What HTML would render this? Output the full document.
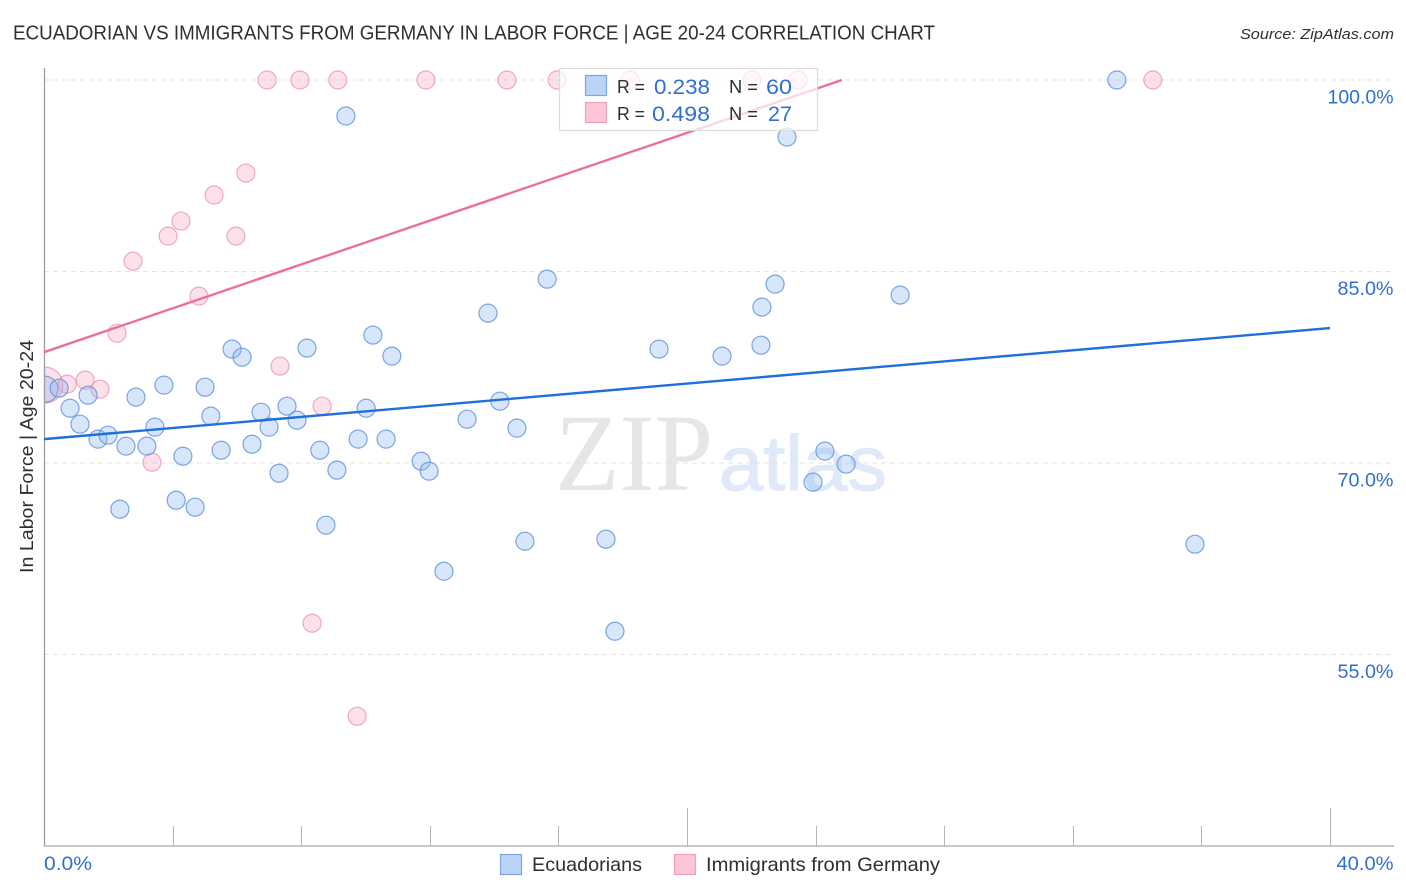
<!DOCTYPE html>
<html lang="en">
<head>
<meta charset="utf-8">
<title>Ecuadorian vs Immigrants from Germany in Labor Force | Age 20-24 Correlation Chart</title>
<style>
html,body{margin:0;padding:0;background:#fff;width:1406px;height:892px;overflow:hidden}
svg{display:block;font-family:"Liberation Sans",sans-serif}
</style>
</head>
<body>
<svg id="chart" width="1406" height="892" viewBox="0 0 1406 892" xmlns="http://www.w3.org/2000/svg">
  <text x="13" y="39.500" font-size="20" fill="#2b2f36" textLength="922" lengthAdjust="spacingAndGlyphs">ECUADORIAN VS IMMIGRANTS FROM GERMANY IN LABOR FORCE | AGE 20-24 CORRELATION CHART</text>
  <text x="1394" y="39" font-size="15" font-style="italic" fill="#2b2f36" text-anchor="end" textLength="154" lengthAdjust="spacingAndGlyphs">Source: ZipAtlas.com</text>

  <g>
    <text x="555" y="490" font-family="'Liberation Serif',serif" font-size="110" fill="#e6e6e6" textLength="158" lengthAdjust="spacingAndGlyphs">ZIP</text>
    <text x="719" y="490" font-size="78" fill="#dfe9f8" stroke="#dfe9f8" stroke-width="1" textLength="168" lengthAdjust="spacingAndGlyphs">atlas</text>
  </g>

  <g id="grid"></g>
  <g id="points"></g>
  <rect x="0" y="340" width="44" height="100" fill="#ffffff"/>
  <g id="axes">
    <line x1="44.500" y1="68" x2="44.500" y2="846" stroke="#9c9c9c" stroke-width="1.300"/>
    <line x1="44" y1="846" x2="1394" y2="846" stroke="#a8a8a8" stroke-width="1.300"/>
  </g>
  <g id="ticks"></g>
  <g id="ylabels"></g>
  <g id="xlabels"></g>
  <text transform="translate(33,456.500) rotate(-90)" font-size="18" fill="#2b2f36" text-anchor="middle" textLength="233" lengthAdjust="spacingAndGlyphs">In Labor Force | Age 20-24</text>

  <g id="trends"></g>

  <g>
    <rect x="559.500" y="68.500" width="258" height="62" fill="#ffffff" fill-opacity="0.72" stroke="#dcdcdc" stroke-width="1.200"/>
    <rect x="585.500" y="75.500" width="21" height="20" fill="#b9d4f7" stroke="#7ba6de" stroke-width="1.200"/>
    <rect x="585.500" y="102.500" width="21" height="20" fill="#fcc6d7" stroke="#eda0bc" stroke-width="1.200"/>
    <text x="617" y="93" font-size="18.500" fill="#2b2f36" textLength="28" lengthAdjust="spacingAndGlyphs">R =</text>
    <text x="654" y="94" font-size="21.500" fill="#2f6fd0" textLength="56" lengthAdjust="spacingAndGlyphs">0.238</text>
    <text x="729" y="93" font-size="18.500" fill="#2b2f36" textLength="29" lengthAdjust="spacingAndGlyphs">N =</text>
    <text x="766" y="94" font-size="21.500" fill="#2f6fd0" textLength="26" lengthAdjust="spacingAndGlyphs">60</text>
    <text x="617" y="120" font-size="18.500" fill="#2b2f36" textLength="28" lengthAdjust="spacingAndGlyphs">R =</text>
    <text x="652" y="121" font-size="21.500" fill="#2f6fd0" textLength="58" lengthAdjust="spacingAndGlyphs">0.498</text>
    <text x="729" y="120" font-size="18.500" fill="#2b2f36" textLength="29" lengthAdjust="spacingAndGlyphs">N =</text>
    <text x="768" y="121" font-size="21.500" fill="#2f6fd0" textLength="24" lengthAdjust="spacingAndGlyphs">27</text>
  </g>

  <g>
    <g>
      <rect x="500.500" y="854.500" width="21" height="20" fill="#b9d4f7" stroke="#7ba6de" stroke-width="1.200"/>
      <text x="532" y="871" font-size="19.500" fill="#2b2f36" textLength="110" lengthAdjust="spacingAndGlyphs">Ecuadorians</text>
    </g>
    <g>
      <rect x="674.500" y="854.500" width="21" height="20" fill="#fcc6d7" stroke="#eda0bc" stroke-width="1.200"/>
      <text x="706" y="871" font-size="19.500" fill="#2b2f36" textLength="234" lengthAdjust="spacingAndGlyphs">Immigrants from Germany</text>
    </g>
  </g>
</svg>

<script>
const yTicks = [100, 85, 70, 55];
const yTickLabels = ["100.0%", "85.0%", "70.0%", "55.0%"];
const xTicks = [0, 4, 8, 12, 16, 20, 24, 28, 32, 36, 40];
const xTickLabels = ["0.0%", "40.0%"];

const ecuadorianX = [0.47,0.81,1.12,1.37,1.68,1.99,2.36,2.55,2.86,3.20,3.45,3.73,4.11,4.32,4.70,5.01,5.19,5.51,5.85,6.16,6.47,6.75,7.00,7.31,7.56,7.87,8.18,8.58,8.77,9.11,9.39,9.77,10.02,10.23,10.64,10.82,11.73,11.98,12.44,13.16,13.81,14.18,14.71,14.96,15.65,17.48,17.76,19.13,21.09,22.30,22.33,22.74,23.11,23.92,24.29,24.95,26.63,33.37,35.80];
const ecuadorianY = [75.86,74.29,73.04,75.31,71.87,72.18,66.38,71.32,75.16,71.32,72.81,76.10,67.08,70.53,66.54,75.94,73.67,71.00,78.92,78.29,71.47,73.98,72.81,69.20,74.45,73.35,79.00,71.00,65.13,69.44,97.18,71.87,74.29,80.02,71.87,78.37,70.14,69.36,61.52,73.43,81.74,74.84,72.73,63.87,84.40,64.03,56.82,78.92,78.37,79.23,82.21,84.01,95.53,68.50,70.93,69.91,83.15,100,63.64];
const germanyX = [6.94,7.96,9.14,11.88,14.40,15.96,18.23,22.02,23.45,34.49,6.28,5.29,4.26,3.86,5.97,2.77,4.82,2.27,7.34,1.28,0.72,1.74,8.65,3.36,8.34,9.74];
const germanyY = [100,100,100,100,100,100,100,100,100,100,92.71,90.99,88.95,87.77,87.77,85.81,83.07,80.17,77.59,76.49,76.18,75.78,74.45,70.06,57.45,50.16];
const ecuadorianLargeX = [0.03];
const ecuadorianLargeY = [75.78];
const germanyLargeX = [0.03];
const germanyLargeY = [76.1];
const ecuadorianTrendX = [0, 40];
const ecuadorianTrendY = [71.87, 80.57];
const germanyTrendX = [0, 24.82];
const germanyTrendY = [78.68, 100];

const SVG_NS = "http://www.w3.org/2000/svg";
const PLOT_LEFT = 44, PLOT_RIGHT = 1330, Y_TOP = 80, Y_BOTTOM = 846;
function xScale(v) { return PLOT_LEFT + (v / 40) * (PLOT_RIGHT - PLOT_LEFT); }
function yScale(v) { return Y_TOP + ((100 - v) / 60) * (Y_BOTTOM - Y_TOP); }
function make(tag, attrs, parent) {
  const el = document.createElementNS(SVG_NS, tag);
  for (const k in attrs) el.setAttribute(k, attrs[k]);
  parent.appendChild(el);
  return el;
}

const gridG = document.getElementById("grid");
const ylabelsG = document.getElementById("ylabels");
yTicks.forEach(function (t, i) {
  const line = make("line", { x1: PLOT_LEFT, x2: 1394, y1: yScale(t), y2: yScale(t), stroke: "#e3e3e3", "stroke-width": 1, "stroke-dasharray": "5 4" }, gridG);
  
  
  const label = make("text", { x: 1393.5, y: yScale(t) + 23.5, "font-size": 19.5, fill: "#2f6fd0", "text-anchor": "end", textLength: yTickLabels[i].length === 6 ? 66 : 56, lengthAdjust: "spacingAndGlyphs" }, ylabelsG);
  
  
  label.textContent = yTickLabels[i];
});

const ticksG = document.getElementById("ticks");
xTicks.forEach(function (t) {
  if (t === 0) return;
  const major = t === 20 || t === 40;
  const tick = make("line", { x1: Math.round(xScale(t)) + 0.5, x2: Math.round(xScale(t)) + 0.5, y1: 846, y2: major ? 808 : 826, stroke: "#b4b4b4", "stroke-width": 1 }, ticksG);
  
  
});

const xlabelsG = document.getElementById("xlabels");
const x0 = make("text", { x: 44, y: 870, "font-size": 19.5, fill: "#2f6fd0", textLength: 48, lengthAdjust: "spacingAndGlyphs" }, xlabelsG);


x0.textContent = xTickLabels[0];
const x1 = make("text", { x: 1393.5, y: 870, "font-size": 19.5, fill: "#2f6fd0", "text-anchor": "end", textLength: 57, lengthAdjust: "spacingAndGlyphs" }, xlabelsG);


x1.textContent = xTickLabels[1];

const pointsG = document.getElementById("points");
const BLUE_STYLE = { fill: "#8db8f0", "fill-opacity": 0.35, stroke: "#5c90dc", "stroke-opacity": 0.8, "stroke-width": 1.2 };
const PINK_STYLE = { fill: "#f8a9c4", "fill-opacity": 0.35, stroke: "#ea8fb0", "stroke-opacity": 0.75, "stroke-width": 1.2 };
function drawPoint(xv, yv, r, style, name) {
  const attrs = { cx: xScale(xv), cy: yScale(yv), r: r };
  for (const k in style) attrs[k] = style[k];
  const c = make("circle", attrs, pointsG);
  
  
}
germanyLargeX.forEach(function (v, i) { drawPoint(v, germanyLargeY[i], 18, PINK_STYLE, "point-germany-large"); });
ecuadorianLargeX.forEach(function (v, i) { drawPoint(v, ecuadorianLargeY[i], 13, BLUE_STYLE, "point-ecuadorian-large"); });
germanyX.forEach(function (v, i) { drawPoint(v, germanyY[i], 9, PINK_STYLE, "point-germany"); });
ecuadorianX.forEach(function (v, i) { drawPoint(v, ecuadorianY[i], 9, BLUE_STYLE, "point-ecuadorian"); });

const trendsG = document.getElementById("trends");
const blueTrend = make("line", { x1: xScale(ecuadorianTrendX[0]), y1: yScale(ecuadorianTrendY[0]), x2: xScale(ecuadorianTrendX[1]), y2: yScale(ecuadorianTrendY[1]), stroke: "#1f6fdc", "stroke-width": 2.4 }, trendsG);


const pinkTrend = make("line", { x1: xScale(germanyTrendX[0]), y1: yScale(germanyTrendY[0]), x2: xScale(germanyTrendX[1]), y2: yScale(germanyTrendY[1]), stroke: "#ec6f9b", "stroke-width": 2.4 }, trendsG);


</script>
</body>
</html>
